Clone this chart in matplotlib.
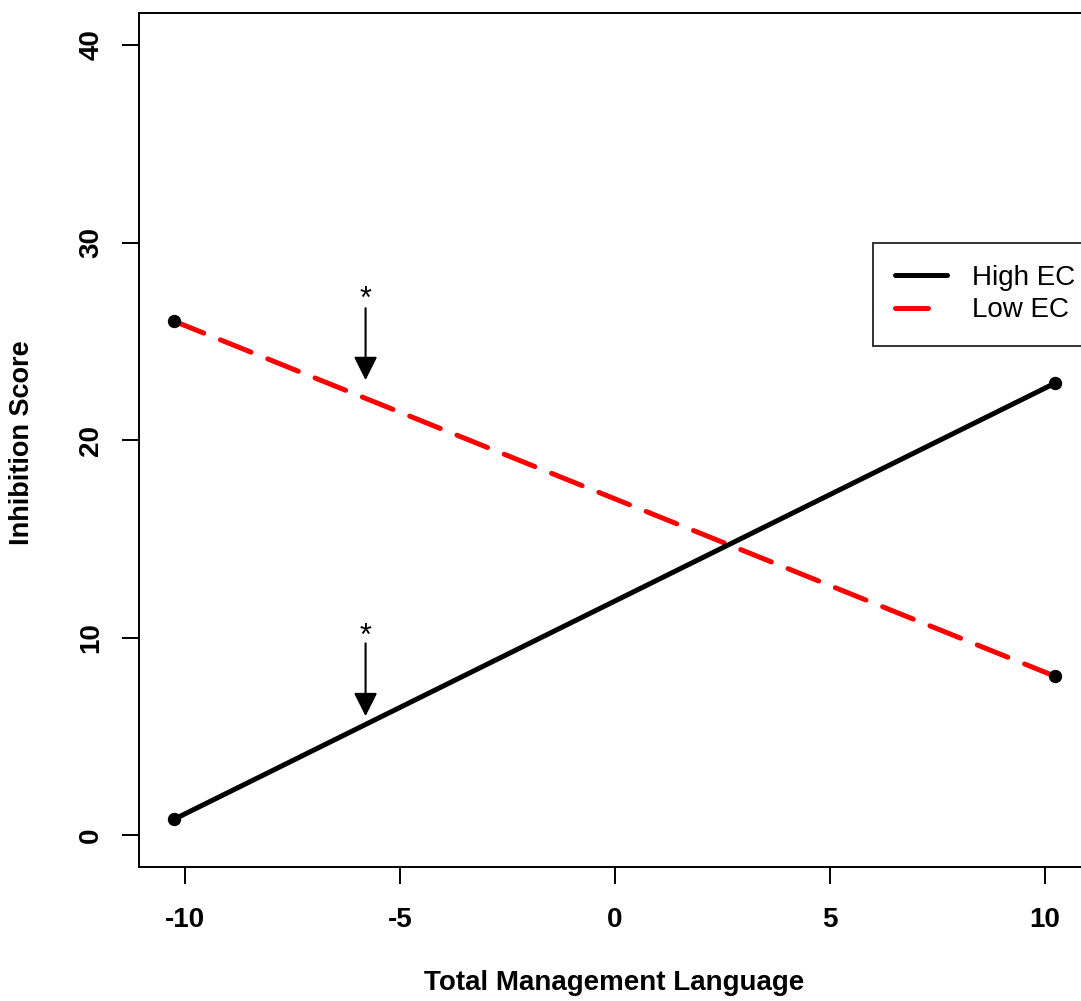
import matplotlib
matplotlib.use("Agg")
import matplotlib.pyplot as plt
from matplotlib.lines import Line2D

# simple slopes: inhibition vs management language at high / low EC
x_vals = [-10.26, 10.24]
high_ec = [0.81, 22.89]
low_ec = [26.03, 8.05]

x_ticks = [-10, -5, 0, 5, 10]
y_ticks = [0, 10, 20, 30, 40]

# significance markers (x, arrow start, arrow tip, star height)
sig_x = -5.8
sig_marks = [(26.68, 23.04, 27.09), (9.72, 6.03, 10.03)]

plt.rcParams.update({
    "font.family": "Liberation Sans",
    "font.size": 20,
})

W, H = 1081, 1001
fig = plt.figure(figsize=(W / 100, H / 100), dpi=100)
left, right, top, bottom = 139, 1090, 13.4, 867
ax = fig.add_axes([left / W, 1 - bottom / H, (right - left) / W, (bottom - top) / H])

# dashed line drawn from the right end so the dash pattern starts there
ax.plot(x_vals[::-1], low_ec[::-1], color="red", lw=3.6, linestyle=(0, (6.6, 3.6)),
        dash_capstyle="round")
ax.plot(x_vals, high_ec, color="black", lw=3.6, solid_capstyle="round")
ax.plot(x_vals, high_ec, "o", color="black", ms=8.6)
ax.plot(x_vals, low_ec, "o", color="black", ms=8.6)

for start, tip, star in sig_marks:
    ax.annotate("", xy=(sig_x, tip), xytext=(sig_x, start),
                arrowprops=dict(arrowstyle="-|>,head_length=0.72,head_width=0.36",
                                mutation_scale=20, color="black", lw=1.5,
                                shrinkA=0, shrinkB=0))
    ax.text(sig_x, star, "*", ha="center", va="center", fontsize=22)

ax.set_xlim(-11.07, 11.05)
ax.set_ylim(-1.6, 41.6)
ax.set_xticks(x_ticks)
ax.set_yticks(y_ticks)
ax.set_xticklabels([str(v) for v in x_ticks], fontweight="bold")
ax.set_yticklabels([str(v) for v in y_ticks], fontweight="bold",
                   rotation=90, va="center")
ax.tick_params(length=12, width=1.4, labelsize=20)
ax.tick_params(axis="x", pad=17)
ax.tick_params(axis="y", pad=13)
for sp in ax.spines.values():
    sp.set_linewidth(1.4)

fig.text(614 / W, 1 - 983 / H, "Total Management Language", ha="center",
         va="center", fontweight="bold", fontsize=20)
fig.text(22 / W, 1 - 443 / H, "Inhibition Score", ha="center", va="center",
         rotation=90, fontweight="bold", fontsize=19.5)

# legend keys: one full dash for the low EC line
handles = [
    Line2D([], [], color="black", lw=3.6, solid_capstyle="round"),
    Line2D([], [], color="red", lw=3.6, linestyle=(0, (6.6, 4.5)),
           dash_capstyle="round"),
]
leg = ax.legend(handles, ["High EC", "Low EC"], loc="upper left",
                bbox_to_anchor=(873 / W, 1 - 243 / H), bbox_transform=fig.transFigure,
                fontsize=20, frameon=True, fancybox=False, handlelength=1.85,
                handletextpad=0.92, borderpad=0.8, labelspacing=0.22,
                borderaxespad=0)
leg.get_frame().set_edgecolor("black")
leg.get_frame().set_linewidth(1.4)

fig.savefig("out.png", dpi=100)
